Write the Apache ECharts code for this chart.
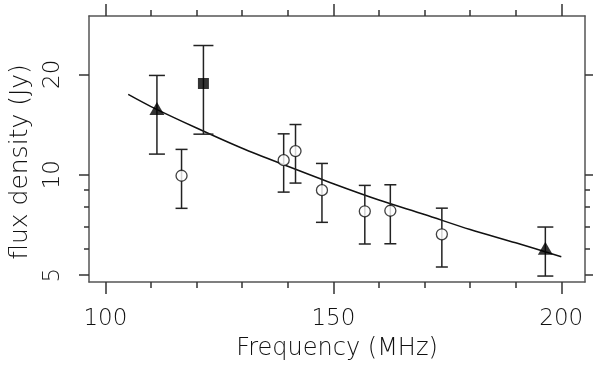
<!DOCTYPE html>
<html>
<head>
<meta charset="utf-8">
<script src="https://cdn.jsdelivr.net/npm/echarts@6/dist/echarts.min.js"></script>
<style>
  html, body { margin: 0; padding: 0; background: #fff; }
  #chart { width: 600px; height: 366px; }
</style>
</head>
<body>
<div id="chart"></div>
<script>
// data
const triFreq = [111.3, 196.5]
const triFlux = [15.8, 6.02]
const triLow = [11.53, 4.97]
const triHigh = [19.84, 6.97]

const sqFreq = [121.5]
const sqFlux = [18.77]
const sqLow = [13.23]
const sqHigh = [24.39]

const circFreq = [116.7, 139.1, 141.7, 147.5, 156.9, 162.5, 173.8]
const circFlux = [9.93, 11.06, 11.77, 8.99, 7.77, 7.8, 6.63]
const circLow = [7.93, 8.87, 9.44, 7.2, 6.2, 6.21, 5.29]
const circHigh = [11.91, 13.26, 14.14, 10.81, 9.29, 9.33, 7.94]

// fitted spectrum
const fitFreq = [105, 110, 120, 130, 140, 150, 160, 170, 180, 190, 200]
const fitFlux = [17.4, 16.0, 13.8, 12.0, 10.6, 9.4, 8.4, 7.6, 6.85, 6.25, 5.68]

// ticks
const xMajor = [100, 150, 200]
const xMinor = [110, 120, 130, 140, 160, 170, 180, 190]
const yMajor = [5, 10, 20]
const yMinor = [6, 7, 8, 9]

const xMin = 96.4, xMax = 205.2
const yMin = 4.77, yMax = 29.9

const font = 'DejaVu Sans'
const weight = 200
const frameColor = '#555'
const tickColor = '#333'
const textColor = '#111'

const chart = echarts.init(document.getElementById('chart'))

function zip(a, b) {
  return a.map((v, i) => [v, b[i]])
}
function zip3(a, b, c) {
  return a.map((v, i) => [v, b[i], c[i]])
}

function errorBars(cap) {
  return function (params, api) {
    const x = api.value(0)
    const lo = api.coord([x, api.value(1)])
    const hi = api.coord([x, api.value(2)])
    const style = { stroke: '#222', lineWidth: 1.5 }
    return {
      type: 'group',
      children: [
        { type: 'line', shape: { x1: lo[0], y1: lo[1], x2: hi[0], y2: hi[1] }, style: style },
        { type: 'line', shape: { x1: hi[0] - cap, y1: hi[1], x2: hi[0] + cap, y2: hi[1] }, style: style },
        { type: 'line', shape: { x1: lo[0] - cap, y1: lo[1], x2: lo[0] + cap, y2: lo[1] }, style: style }
      ]
    }
  }
}

function xAxisDef(pos, ticks, len, showLine, showLabel) {
  return {
    type: 'value',
    position: pos,
    min: xMin,
    max: xMax,
    splitLine: { show: false },
    axisLine: { show: showLine, onZero: false, lineStyle: { color: frameColor, width: 1.5 } },
    axisTick: { show: true, inside: false, length: len, customValues: ticks, lineStyle: { color: tickColor, width: 1.5 } },
    axisLabel: showLabel ? {
      customValues: ticks, margin: 26, color: textColor, fontFamily: font, fontWeight: weight, fontSize: 23
    } : { show: false }
  }
}

function yAxisDef(pos, ticks, len, showLine, showLabel) {
  return {
    type: 'log',
    logBase: 10,
    position: pos,
    min: yMin,
    max: yMax,
    splitLine: { show: false },
    axisLine: { show: showLine, onZero: false, lineStyle: { color: frameColor, width: 1.5 } },
    axisTick: { show: true, inside: false, length: len, customValues: ticks, lineStyle: { color: tickColor, width: 1.5 } },
    axisLabel: showLabel ? {
      customValues: ticks, rotate: 90, margin: 24, color: textColor, fontFamily: font, fontWeight: weight, fontSize: 23
    } : { show: false }
  }
}

const xBottom = xAxisDef('bottom', xMajor, 12, true, true)
xBottom.name = 'Frequency (MHz)'
xBottom.nameLocation = 'middle'
xBottom.nameGap = 55
xBottom.nameTextStyle = { color: textColor, fontFamily: font, fontWeight: weight, fontSize: 24 }

const yLeft = yAxisDef('left', yMajor, 10, true, true)
yLeft.name = 'flux density (Jy)'
yLeft.nameLocation = 'middle'
yLeft.nameGap = 56
yLeft.nameTextStyle = { color: textColor, fontFamily: font, fontWeight: weight, fontSize: 25, padding: [0, 26, 0, 0] }

const option = {
  backgroundColor: '#fff',
  animation: false,
  grid: { left: 83, right: 15, top: 16, bottom: 84, containLabel: false },
  xAxis: [
    xBottom,
    xAxisDef('bottom', xMinor, 6, false, false),
    xAxisDef('top', xMajor, 12, true, false),
    xAxisDef('top', xMinor, 6, false, false)
  ],
  yAxis: [
    yLeft,
    yAxisDef('left', yMinor, 5, false, false),
    yAxisDef('right', yMajor, 8, true, false),
    yAxisDef('right', yMinor, 5, false, false)
  ],
  series: [
    {
      name: 'fit',
      type: 'line',
      data: zip(fitFreq, fitFlux),
      smooth: 0.3,
      showSymbol: false,
      lineStyle: { color: '#111', width: 1.5 },
      z: 1
    },
    {
      type: 'custom',
      renderItem: errorBars(8),
      data: zip3(triFreq, triLow, triHigh),
      z: 2
    },
    {
      type: 'custom',
      renderItem: errorBars(10),
      data: zip3(sqFreq, sqLow, sqHigh),
      z: 2
    },
    {
      type: 'custom',
      renderItem: errorBars(6),
      data: zip3(circFreq, circLow, circHigh),
      z: 2
    },
    {
      type: 'scatter',
      data: zip(triFreq, triFlux),
      symbol: 'triangle',
      symbolSize: [15, 13],
      itemStyle: { color: '#000' },
      z: 3
    },
    {
      type: 'scatter',
      data: zip(sqFreq, sqFlux),
      symbol: 'rect',
      symbolSize: 11,
      itemStyle: { color: '#000' },
      z: 3
    },
    {
      type: 'scatter',
      data: zip(circFreq, circFlux),
      symbol: 'circle',
      symbolSize: 11,
      itemStyle: { color: '#fff', borderColor: '#111', borderWidth: 1.3 },
      z: 3
    }
  ]
}

chart.setOption(option)
</script>
</body>
</html>
